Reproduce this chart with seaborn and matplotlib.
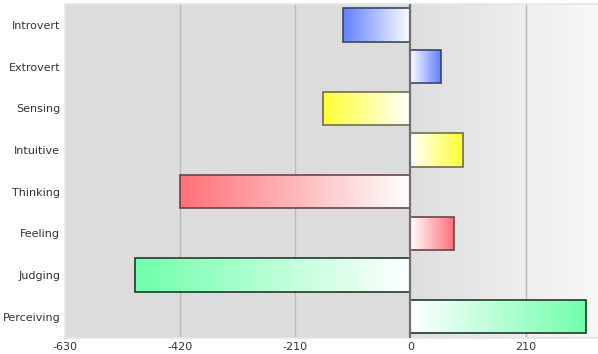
import numpy as np
import pandas as pd
import matplotlib
matplotlib.use("Agg")
import matplotlib.pyplot as plt
import seaborn as sns
from matplotlib.colors import LinearSegmentedColormap

categories = ["Introvert", "Extrovert", "Sensing", "Intuitive",
              "Thinking", "Feeling", "Judging", "Perceiving"]
values = [-123, 55, -160, 96, -420, 80, -502, 321]
bar_colors = ["#6080ff", "#6080ff", "#ffff30", "#ffff30",
              "#ff7078", "#ff7078", "#70ffac", "#70ffac"]
edge_colors = ["#3a4660", "#3a4660", "#6e6e50", "#6e6e50",
               "#6a4444", "#6a4444", "#1f3a2a", "#1f3a2a"]
xticks = [-630, -420, -210, 0, 210]

df = pd.DataFrame({"category": categories, "value": values})

sns.set_theme(style="white")
plt.rcParams['font.family'] = ['DejaVu Sans']

fig = plt.figure(figsize=(5.98, 3.54), dpi=100)
ax = fig.add_axes([65/598, 16.5/354, 533/598, 333.5/354])
ax.set_facecolor("#dcdcdc")

sns.barplot(data=df, x="value", y="category", orient="h", ax=ax,
            width=0.8, color="#888888", order=categories, zorder=3)

xmin, xmax = -630, 342
ax.set_xlim(xmin, xmax)
ax.set_ylim(7.5, -0.5)

# background gradient right of zero
bg = LinearSegmentedColormap.from_list("bg", ["#dedede", "#f8f8f8"])
grad = np.linspace(0, 1, 256).reshape(1, -1)
ax.imshow(grad, cmap=bg, aspect="auto", extent=[0, xmax, 7.5, -0.5],
          zorder=0.1, interpolation="bilinear")

# gradient fill of bars
for patch, v, c, ec in zip(ax.patches, values, bar_colors, edge_colors):
    x0, y0 = patch.get_x(), patch.get_y()
    w, h = patch.get_width(), patch.get_height()
    left, right = min(x0, x0 + w), max(x0, x0 + w)
    cm = LinearSegmentedColormap.from_list("g", [c, "#ffffff"] if v < 0 else ["#ffffff", c])
    im = ax.imshow(grad, cmap=cm, aspect="auto",
                   extent=[left, right, y0 + h, y0], zorder=2.9,
                   interpolation="bilinear")
    im.set_clip_path(patch)
    patch.set_facecolor("none")
    patch.set_edgecolor(ec)
    patch.set_linewidth(1.2)

ax.set_xlim(xmin, xmax)
ax.set_ylim(7.5, -0.5)

for xv in [-420, -210, 210]:
    ax.axvline(xv, color="#b9b9b9", lw=1, zorder=0.5)
ax.axvline(0, color="#707070", lw=1.6, zorder=4)

ax.set_xticks(xticks)
ax.set_xticklabels([str(t) for t in xticks])
ax.tick_params(axis="both", length=0, labelsize=8, colors="#333333", pad=3)
ax.tick_params(axis="y", pad=3.5)
ax.set_xlabel("")
ax.set_ylabel("")

for s in ["top", "bottom", "left"]:
    ax.spines[s].set_color("#e6e6e6")
    ax.spines[s].set_linewidth(1.2)
ax.spines["right"].set_visible(False)

fig.savefig("out.png", dpi=100)
